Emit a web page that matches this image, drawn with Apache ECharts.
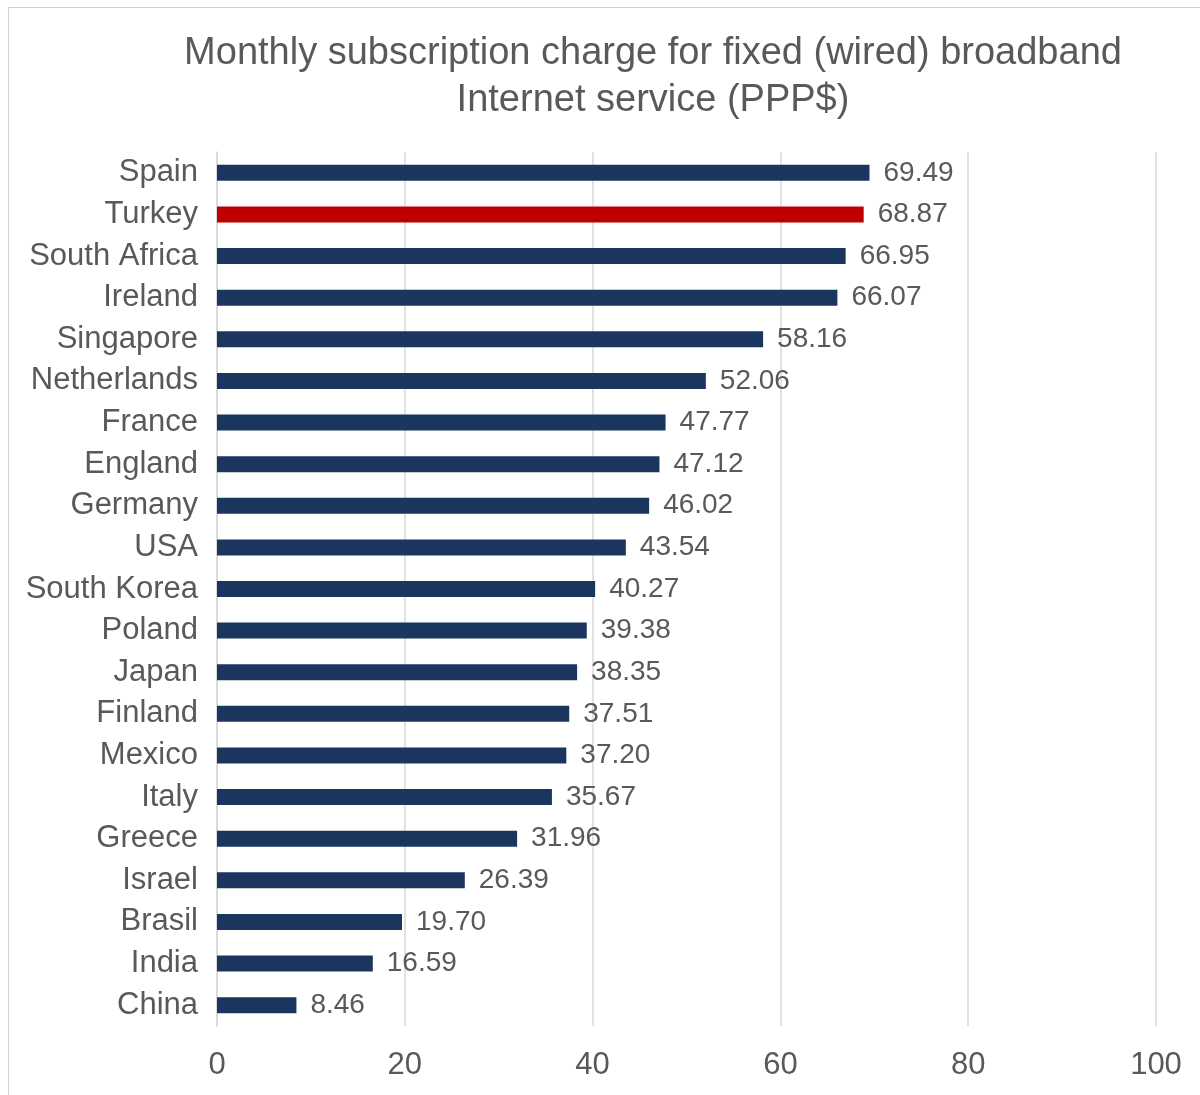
<!DOCTYPE html>
<html>
<head>
<meta charset="utf-8">
<script src="https://cdn.jsdelivr.net/npm/echarts@6/dist/echarts.min.js"></script>
<style>
  html, body { margin: 0; padding: 0; background: #ffffff; }
  #frame {
    position: absolute; left: 8px; top: 7px; width: 1300px; height: 1200px;
    border: 1px solid #d0d0d0; box-sizing: border-box;
  }
  #chart { position: absolute; left: 0; top: 0; width: 1200px; height: 1095px; }
</style>
</head>
<body>
<div id="frame"></div>
<div id="chart"></div>
<script>
// Countries, listed top to bottom
const countries = [
  'Spain', 'Turkey', 'South Africa', 'Ireland', 'Singapore', 'Netherlands',
  'France', 'England', 'Germany', 'USA', 'South Korea', 'Poland', 'Japan',
  'Finland', 'Mexico', 'Italy', 'Greece', 'Israel', 'Brasil', 'India', 'China'
];
// Monthly charge, PPP$
const charges = [
  69.49, 68.87, 66.95, 66.07, 58.16, 52.06, 47.77, 47.12, 46.02, 43.54,
  40.27, 39.38, 38.35, 37.51, 37.20, 35.67, 31.96, 26.39, 19.70, 16.59, 8.46
];
const highlighted = 'Turkey';
const axisTicks = [0, 20, 40, 60, 80, 100];

const navy = '#1a365e';
const red = '#c00000';
const textGray = '#595959';
const font = '"Liberation Sans", Arial, sans-serif';

// category axis runs bottom-up, so reverse for top-to-bottom order
const cats = countries.slice().reverse();
const vals = charges.slice().reverse().map((v, i) => ({
  value: v,
  itemStyle: { color: cats[i] === highlighted ? red : navy }
}));

const chart = echarts.init(document.getElementById('chart'), null, { renderer: 'canvas' });
chart.setOption({
  animation: false,
  backgroundColor: 'transparent',
  title: {
    text: 'Monthly subscription charge for fixed (wired) broadband\nInternet service (PPP$)',
    left: 648,
    top: 25,
    textAlign: 'center',
    textStyle: {
      color: textGray, fontFamily: font, fontSize: 38, fontWeight: 'normal', lineHeight: 47
    }
  },
  grid: { left: 217, right: 44, top: 152, bottom: 69, containLabel: false },
  xAxis: {
    type: 'value',
    min: axisTicks[0],
    max: axisTicks[axisTicks.length - 1],
    interval: axisTicks[1] - axisTicks[0],
    axisLine: { show: false },
    axisTick: { show: false },
    splitLine: { lineStyle: { color: '#d9d9d9', width: 1.5 } },
    axisLabel: { color: textGray, fontFamily: font, fontSize: 31, margin: 24 }
  },
  yAxis: {
    type: 'category',
    data: cats,
    axisLine: { show: true, lineStyle: { color: '#d9d9d9', width: 1.5 } },
    axisTick: { show: false },
    axisLabel: { color: textGray, fontFamily: font, fontSize: 31, margin: 19 }
  },
  series: [{
    type: 'bar',
    data: vals,
    barWidth: 16,
    label: {
      show: true,
      position: 'right',
      distance: 14,
      color: textGray,
      fontFamily: font,
      fontSize: 28,
      formatter: p => p.value.toFixed(2)
    }
  }]
});
</script>
</body>
</html>
